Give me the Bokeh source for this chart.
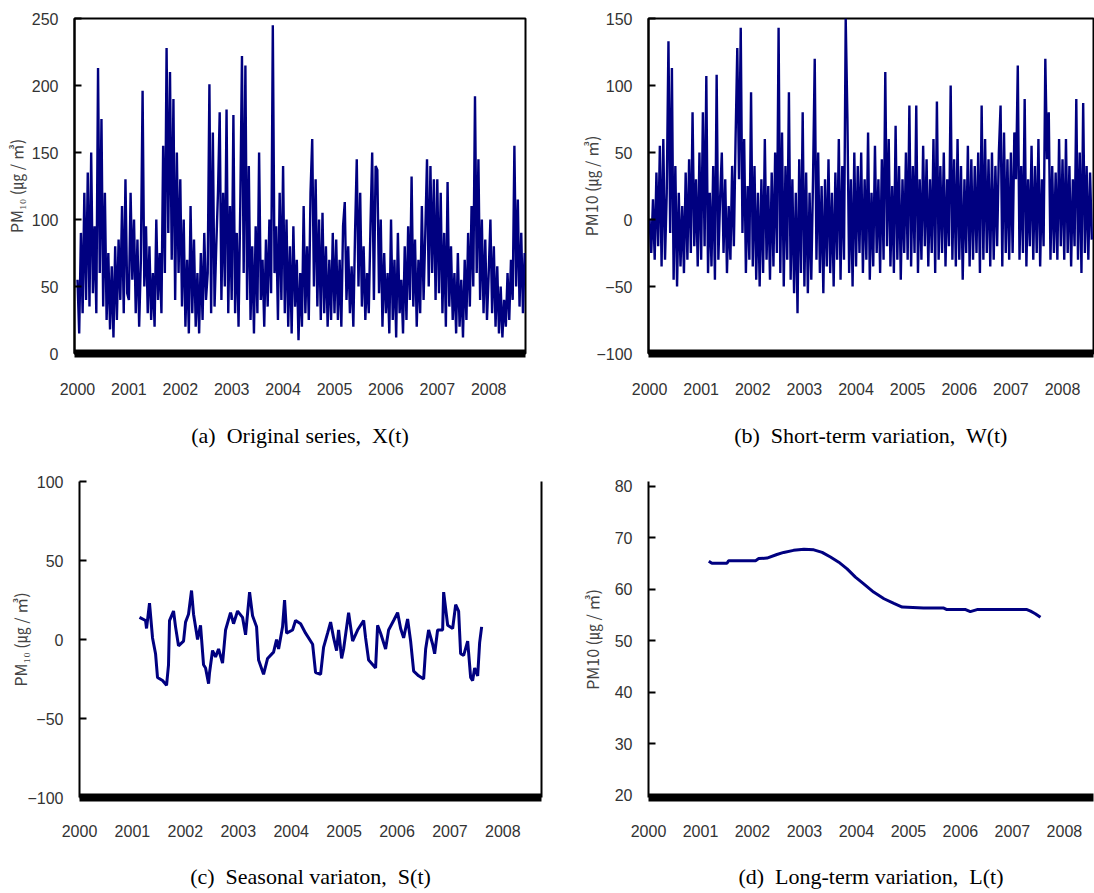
import numpy as np
from bokeh.plotting import figure
from bokeh.layouts import column, row
from bokeh.models import FixedTicker, LinearAxis
from bokeh.embed import file_html
from bokeh.resources import INLINE

# ---------------- data ----------------
year_ticks = [2000, 2001, 2002, 2003, 2004, 2005, 2006, 2007, 2008]
samples_per_year = 30

# (a) Original series X(t), PM10 (ug/m3), ~12-day samples from 2000.0
x2000 = [55, 15, 90, 30, 120, 40, 135, 35, 150, 45, 95, 30, 213, 60, 175, 35, 120, 25, 75, 18, 65, 12, 80, 25, 85, 40, 110, 30, 130, 45]
x2001 = [40, 120, 55, 100, 30, 85, 20, 70, 196, 50, 95, 30, 80, 25, 60, 20, 100, 40, 75, 30, 155, 60, 228, 90, 210, 70, 190, 40, 150, 60]
x2002 = [130, 35, 100, 20, 70, 15, 110, 30, 85, 20, 60, 15, 75, 25, 90, 40, 60, 201, 30, 165, 35, 80, 120, 180, 40, 120, 50, 182, 30, 110]
x2003 = [40, 178, 30, 90, 20, 110, 222, 60, 215, 40, 140, 25, 80, 15, 95, 30, 150, 40, 70, 20, 85, 35, 100, 45, 245, 60, 95, 25, 120, 40]
x2004 = [140, 30, 100, 20, 80, 15, 95, 35, 70, 10, 60, 20, 110, 30, 80, 25, 120, 160, 50, 130, 35, 100, 25, 105, 30, 80, 20, 70, 25, 90]
x2005 = [30, 85, 25, 70, 20, 95, 113, 40, 80, 30, 65, 20, 90, 145, 50, 120, 35, 80, 25, 60, 30, 95, 150, 40, 140, 137, 45, 100, 20, 75]
x2006 = [30, 60, 15, 100, 25, 70, 12, 90, 30, 55, 15, 80, 25, 95, 40, 132, 35, 85, 20, 70, 30, 110, 40, 90, 145, 50, 140, 60, 130, 40]
x2007 = [130, 45, 120, 30, 90, 20, 128, 35, 80, 25, 60, 15, 75, 20, 55, 12, 70, 25, 90, 35, 110, 50, 192, 60, 145, 40, 100, 30, 85, 25]
x2008 = [60, 100, 30, 80, 20, 65, 15, 50, 12, 40, 20, 60, 25, 70, 40, 155, 50, 115, 35, 90, 30, 75]

# (b) Short-term variation W(t)
w2000 = [0, -25, 15, -30, 35, -20, 55, -35, 60, -30, 20, 133, -10, 113, -45, 40, -50, 20, -35, 10, -40, 35, -30, 45, -25, 80, -20, 30, -35, 50]
w2001 = [-30, 80, -20, 107, -40, 20, -35, 40, -45, 108, -30, 15, 50, -25, 30, -40, 10, -30, 40, -20, 60, 128, 30, 143, -10, 60, -40, 25, -30, 95]
w2002 = [-35, 40, -45, 20, -50, 30, -40, 60, -30, 25, -45, 35, -35, 50, -25, 143, -40, 65, -50, 40, -30, 95, -45, 30, -55, 20, -70, 45, -40, 80]
w2003 = [-50, 35, -55, 20, -45, 30, 120, -30, 50, -40, 25, -55, 30, -35, 45, -40, 20, -50, 35, -30, 60, -45, 40, -30, 150, 75, -40, 30, -50, 50]
w2004 = [-35, 40, -25, 50, -40, 30, -30, 65, -45, 20, -35, 55, -25, 30, -40, 45, -30, 110, -20, 60, -35, 25, -40, 70, -30, 40, -45, 30, -25, 50]
w2005 = [-30, 85, -35, 40, -25, 85, -40, 30, -30, 55, -20, 45, -35, 30, -25, 60, -40, 88, -30, 40, -25, 50, -35, 30, -20, 100, -30, 45, -35, 60]
w2006 = [-30, 40, -45, 30, -25, 55, -35, 45, -30, 40, -25, 50, -40, 85, -30, 60, -25, 45, -35, 50, -30, 40, -20, 50, 85, -35, 65, -25, 45, -30]
w2007 = [50, -25, 65, 30, 115, -30, 40, -25, 90, -35, 30, -20, 55, -30, 40, -25, 60, -35, 30, -20, 120, 45, 80, -30, 40, -25, 35, -30, 60, -20]
w2008 = [45, -30, 60, -25, 40, -35, 30, -20, 90, -30, 50, -40, 87, -25, 40, -30, 35, -15]

# (c) Seasonal variation S(t)
s_dates = [2001.134, 2001.248, 2001.267, 2001.323, 2001.380, 2001.437, 2001.474, 2001.569, 2001.645, 2001.682,
           2001.701, 2001.777, 2001.815, 2001.871, 2001.966, 2002.004, 2002.060, 2002.117, 2002.155, 2002.231,
           2002.287, 2002.344, 2002.382, 2002.439, 2002.457, 2002.514, 2002.571, 2002.628, 2002.703, 2002.760,
           2002.854, 2002.911, 2002.987, 2003.081, 2003.138, 2003.214, 2003.270, 2003.346, 2003.384, 2003.478,
           2003.554, 2003.667, 2003.724, 2003.762, 2003.837, 2003.875, 2003.913, 2004.026, 2004.083, 2004.178,
           2004.272, 2004.405, 2004.461, 2004.556, 2004.612, 2004.688, 2004.745, 2004.802, 2004.858, 2004.896,
           2004.953, 2004.991, 2005.085, 2005.161, 2005.255, 2005.312, 2005.369, 2005.406, 2005.463, 2005.595,
           2005.633, 2005.690, 2005.784, 2005.841, 2005.936, 2006.011, 2006.068, 2006.125, 2006.200, 2006.257,
           2006.314, 2006.408, 2006.503, 2006.541, 2006.597, 2006.673, 2006.711, 2006.767, 2006.862, 2006.881,
           2006.957, 2007.051, 2007.108, 2007.164, 2007.202, 2007.259, 2007.335, 2007.391, 2007.429, 2007.467,
           2007.524, 2007.561, 2007.599]
s_values = [14, 12, 7, 23, 1, -9, -24, -26, -29, -16,
            12, 18, 8, -4, -1, 11, 16, 31, 16, 0,
            9, -16, -18, -28, -21, -7, -11, -6, -15, 6,
            17, 10, 18, 14, 3, 30, 15, 8, -13, -22,
            -12, -8, 0, -6, 8, 25, 4, 6, 12, 10,
            4, -3, -21, -22, -5, 4, 11, 1, -7, 6,
            -12, -6, 17, -1, 6, 9, 12, 1, -13, -18,
            9, 4, -6, 6, 12, 17, 7, 1, 13, -1,
            -20, -23, -25, -6, 6, -3, -9, 6, 6, 30,
            9, 7, 22, 18, -9, -10, -1, -24, -26, -18,
            -23, -2, 8]

# (d) Long-term variation L(t)
l_dates = [2001.16, 2001.22, 2001.51, 2001.54, 2002.06, 2002.12, 2002.28, 2002.47, 2002.60, 2002.79,
           2002.99, 2003.18, 2003.34, 2003.50, 2003.66, 2003.82, 2003.98, 2004.14, 2004.33, 2004.53,
           2004.72, 2004.88, 2005.29, 2005.68, 2005.74, 2006.10, 2006.19, 2006.32, 2006.90, 2007.28,
           2007.35, 2007.44, 2007.54]
l_values = [65.5, 65.1, 65.1, 65.6, 65.6, 66.0, 66.1, 66.8, 67.2, 67.6,
            67.8, 67.7, 67.2, 66.3, 65.3, 64.0, 62.4, 61.1, 59.5, 58.2,
            57.3, 56.6, 56.4, 56.4, 56.1, 56.1, 55.7, 56.1, 56.1, 56.1,
            55.8, 55.3, 54.6]

a_yticks = [0, 50, 100, 150, 200, 250]
b_yticks = [-100, -50, 0, 50, 100, 150]
c_yticks = [-100, -50, 0, 50, 100]
d_yticks = [20, 30, 40, 50, 60, 70, 80]

captions = ["(a)\u00a0 Original series,\u00a0 X(t)", "(b)\u00a0 Short-term variation,\u00a0 W(t)",
            "(c)\u00a0 Seasonal variaton,\u00a0 S(t)", "(d)\u00a0 Long-term variation,\u00a0 L(t)"]
ylabels = ["PM\u2081\u2080 (\u338d / \u33a5)", "PM10 (\u338d / \u33a5)",
           "PM\u2081\u2080 (\u338d / \u33a5)", "PM10 (\u338d / \u33a5)"]

X_series = x2000 + x2001 + x2002 + x2003 + x2004 + x2005 + x2006 + x2007 + x2008
W_series = w2000 + w2001 + w2002 + w2003 + w2004 + w2005 + w2006 + w2007 + w2008
X_dates = 2000 + np.arange(len(X_series)) / samples_per_year
W_dates = 2000 + np.arange(len(W_series)) / samples_per_year

NAVY = "#000080"
TICK_FONT = "Liberation Sans"
TICK_COLOR = "#333333"


def minus(v):
    return ("\u2212" + str(abs(v))) if v < 0 else str(v)


def make_panel(width, height, xr, yr, borders, yticks, xstandoff, ylabel, ylab_standoff,
               caption, cap_standoff, frame=True, right_line=False):
    bl, br, bt, bb = borders
    p = figure(width=width, height=height, x_range=xr, y_range=yr,
               min_border_left=bl, min_border_right=br, min_border_top=bt, min_border_bottom=bb,
               output_backend="svg", toolbar_location=None)
    p.xgrid.visible = False
    p.ygrid.visible = False
    if frame:
        p.outline_line_color = "black"
        p.outline_line_width = 2
        p.outline_line_alpha = 1
    else:
        p.outline_line_color = None
    # y axis
    ya = p.yaxis[0]
    ya.ticker = FixedTicker(ticks=yticks)
    ya.major_label_overrides = {v: minus(v) for v in yticks}
    ya.major_tick_in = 7
    ya.major_tick_out = 0
    ya.major_tick_line_width = 2
    ya.major_tick_line_color = "black"
    ya.minor_tick_line_color = None
    ya.axis_line_width = 2
    ya.axis_line_color = "black"
    ya.major_label_standoff = 16
    ya.major_label_text_font = TICK_FONT
    ya.major_label_text_font_size = "16px"
    ya.major_label_text_color = TICK_COLOR
    ya.axis_label = ylabel
    ya.axis_label_standoff = ylab_standoff
    ya.axis_label_text_font = "Noto Sans CJK KR"
    ya.axis_label_text_font_style = "normal"
    ya.axis_label_text_font_size = "16px"
    ya.axis_label_text_color = "#444444"
    # x axis: thick black bar, caption as the axis label
    xa = p.xaxis[0]
    xa.ticker = FixedTicker(ticks=year_ticks)
    xa.major_tick_line_color = None
    xa.minor_tick_line_color = None
    xa.axis_line_width = 8
    xa.axis_line_color = "black"
    xa.major_label_standoff = xstandoff
    xa.major_label_text_font = TICK_FONT
    xa.major_label_text_font_size = "16px"
    xa.major_label_text_color = TICK_COLOR
    xa.axis_label = caption
    xa.axis_label_standoff = cap_standoff
    xa.axis_label_text_font = "Liberation Serif"
    xa.axis_label_text_font_style = "normal"
    xa.axis_label_text_font_size = "22px"
    xa.axis_label_text_color = "black"
    if right_line:
        ra = LinearAxis(ticker=FixedTicker(ticks=[]), major_tick_line_color=None,
                        minor_tick_line_color=None, axis_line_width=2,
                        axis_line_color="black")
        p.add_layout(ra, "right")
    return p


# (a)
pa = make_panel(570, 458, (1999.942, 2008.716), (0, 250), (74, 45, 18, 105), a_yticks, 23,
                ylabels[0], 1, captions[0], 25)
pa.line(X_dates, X_series, line_color=NAVY, line_width=2.4)

# (b)
pb = make_panel(524, 458, (1999.98, 2008.6), (-100, 150), (78, 1, 18, 105), b_yticks, 23,
                ylabels[1], -10, captions[1], 25)
pb.line(W_dates, W_series, line_color=NAVY, line_width=2.4)

# (c)
pc = make_panel(570, 434, (2000.0, 2008.73), (-100, 100), (79, 29, 23, 95), c_yticks, 21,
                ylabels[2], -8, captions[2], 24, frame=False, right_line=True)
pc.line(s_dates, s_values, line_color=NAVY, line_width=3)

# (d)
pd_ = make_panel(524, 434, (2000.0, 2008.56), (19.61, 80.97), (78, 1, 23, 95), d_yticks, 21,
                 ylabels[3], 8, captions[3], 24, frame=False)
pd_.line(l_dates, l_values, line_color=NAVY, line_width=3)

layout = column(row(pa, pb), row(pc, pd_))
open("out.html", "w").write(file_html(layout, INLINE))
